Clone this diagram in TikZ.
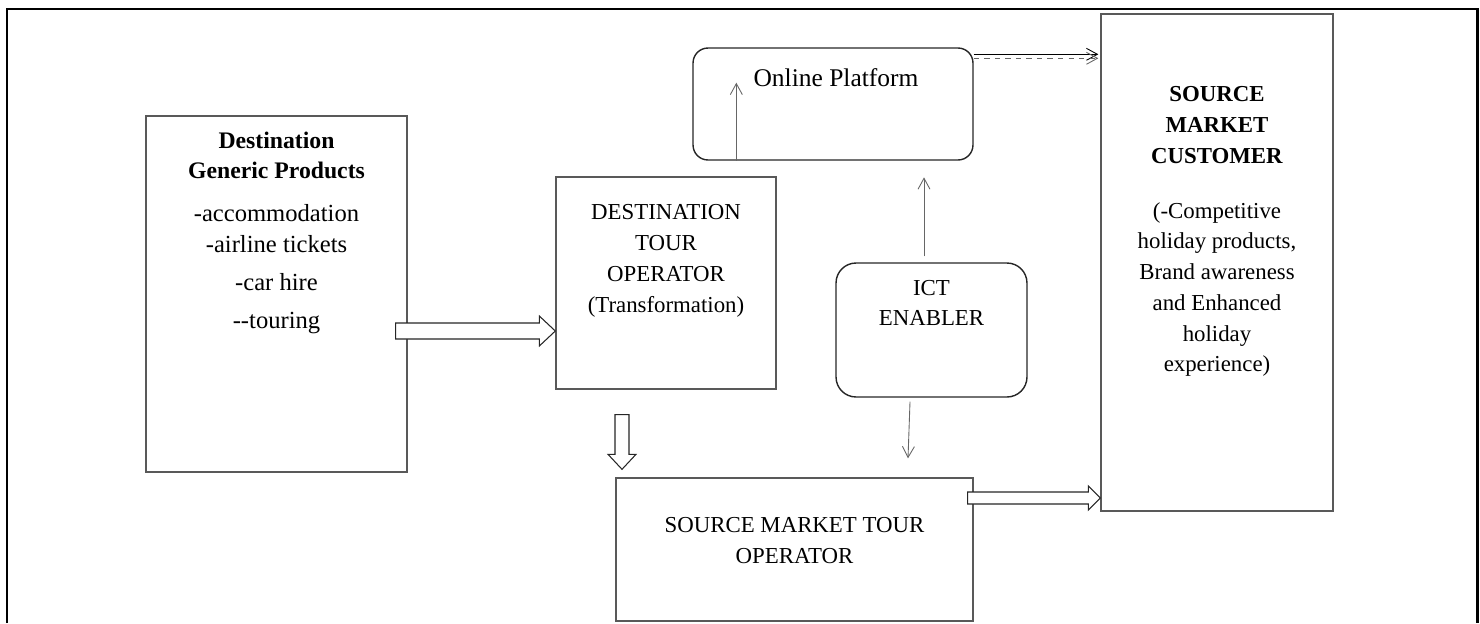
\documentclass[tikz,border=0pt]{standalone}
\usepackage{fontspec}
\setmainfont{Liberation Serif}
\usetikzlibrary{arrows.meta,positioning,calc}

\begin{document}
\begin{tikzpicture}[
  x=0.02cm, y=-0.02cm,
  font=\fontsize{13}{17.5}\selectfont,
  box/.style={rectangle, draw=black!65, line width=0.8pt, inner sep=0pt},
  roundbox/.style={rectangle, rounded corners=0.3cm, draw=black!85, line width=0.8pt, inner sep=0pt},
  txt/.style={align=center, inner sep=0pt},
  thinarrow/.style={draw=black!60, line width=0.5pt, -{Straight Barb[length=0.22cm, width=0.24cm]}},
  blockarrow/.style={draw=black!85, fill=white, line width=0.6pt}
]
\useasboundingbox (0,0) rectangle (1480,623);

% frame
\draw[line width=1.7pt] (7,623) -- (7,9) -- (1477,9) -- (1477,623);

% boxes
\node[box, minimum width=5.22cm, minimum height=7.12cm] (dgp) at (276.5,294) {};
\node[box, minimum width=4.4cm, minimum height=4.24cm] (dto) at (666,283) {};
\node[roundbox, minimum width=5.6cm, minimum height=2.24cm] (op) at (833,104) {};
\node[roundbox, rounded corners=0.4cm, minimum width=3.82cm, minimum height=2.68cm] (ict) at (931.5,330) {};
\node[box, minimum width=7.14cm, minimum height=2.86cm] (smto) at (794.5,549.5) {};
\node[box, minimum width=4.64cm, minimum height=9.94cm] (smc) at (1217,262.5) {};

% texts
\node[txt, anchor=north, font=\fontsize{13.5}{17.5}\selectfont] (dgptext) at ($(dgp.north)+(0,16)$) {\textbf{Destination}\\ \textbf{Generic Products}\\[0.24cm] \fontsize{14}{17.5}\selectfont -accommodation\\ \fontsize{14}{17.5}\selectfont -airline tickets\\[0.14cm] \fontsize{14}{17.5}\selectfont -car hire\\[0.16cm] \fontsize{14}{17.5}\selectfont -{}-touring};
\node[txt, anchor=north] (dtotext) at ($(dto.north)+(0,28)$) {DESTINATION\\ TOUR\\ OPERATOR\\ (Transformation)};
\node[txt, font=\fontsize{14.5}{17.5}\selectfont] (optext) at ($(op.north)+(3,30)$) {Online Platform};
\node[txt] (icttext) at ($(ict.center)+(0,-27)$) {ICT\\ ENABLER};
\node[txt] (smtotext) at ($(smto.center)+(0,-9)$) {SOURCE MARKET TOUR\\ OPERATOR};
\node[txt, anchor=north] (smctext) at ($(smc.north)+(0,73)$) {\textbf{SOURCE}\\ \textbf{MARKET}\\ \textbf{CUSTOMER}\\[0.48cm] (-Competitive\\ holiday products,\\ Brand awareness\\ and Enhanced\\ holiday\\ experience)};

% block arrows
\coordinate (a1) at ($(dgp.east)+(-12,37)$);
\coordinate (b1) at (dto.west |- a1);
\draw[blockarrow] ($(a1)+(0,-8)$) -- ($(b1)+(-16,-8)$) -- ($(b1)+(-16,-15)$) -- (b1) -- ($(b1)+(-16,15)$) -- ($(b1)+(-16,8)$) -- ($(a1)+(0,8)$) -- cycle;

\coordinate (a2) at ($(dto.south)+(-44,25)$);
\coordinate (b2) at ($(a2 |- smto.north)+(0,-8)$);
\draw[blockarrow] ($(a2)+(-7,0)$) -- ($(b2)+(-7,-15)$) -- ($(b2)+(-14,-15)$) -- (b2) -- ($(b2)+(14,-15)$) -- ($(b2)+(7,-15)$) -- ($(a2)+(7,0)$) -- cycle;

\coordinate (a3) at ($(smto.east)+(-6,-51.5)$);
\coordinate (b3) at (smc.west |- a3);
\draw[blockarrow] ($(a3)+(0,-6)$) -- ($(b3)+(-12,-6)$) -- ($(b3)+(-12,-12)$) -- (b3) -- ($(b3)+(-12,12)$) -- ($(b3)+(-12,6)$) -- ($(a3)+(0,6)$) -- cycle;

% thin arrows
\draw[thinarrow] ($(op.south west)+(44,0)$) -- ($(op.south west)+(44,-78)$);
\draw[thinarrow] ($(ict.north)+(-7.5,-6)$) -- ($(ict.north)+(-7.5,-85)$);
\draw[thinarrow] ($(ict.south)+(-21.5,4)$) -- ($(smto.north)+(113.5,-19)$);
\draw[thinarrow, draw=black] ($(op.north east)+(0,7)$) -- ($(smc.west |- op.north)+(-2,7)$);
\draw[thinarrow, dashed] ($(op.north east)+(0,11)$) -- ($(smc.west |- op.north)+(-2,11)$);

\end{tikzpicture}
\end{document}
